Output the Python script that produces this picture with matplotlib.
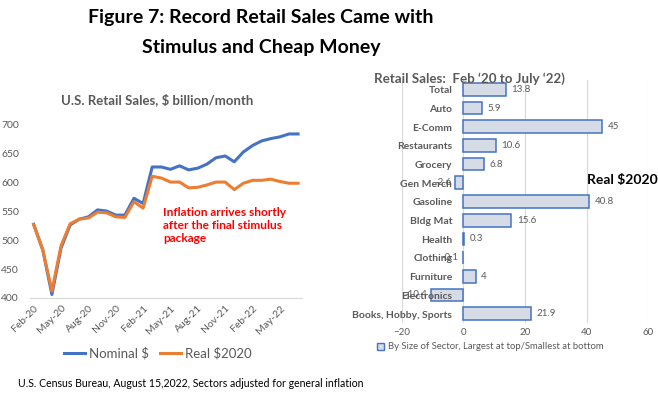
import matplotlib.pyplot as plt
import numpy as np
from matplotlib.patches import Patch
from matplotlib.lines import Line2D

plt.rcParams['font.family'] = ['Lato', 'DejaVu Sans']

# monthly retail sales, Feb-20 .. Jul-22, $ billion
months = ['Feb-20', 'Mar-20', 'Apr-20', 'May-20', 'Jun-20', 'Jul-20', 'Aug-20', 'Sep-20',
          'Oct-20', 'Nov-20', 'Dec-20', 'Jan-21', 'Feb-21', 'Mar-21', 'Apr-21', 'May-21',
          'Jun-21', 'Jul-21', 'Aug-21', 'Sep-21', 'Oct-21', 'Nov-21', 'Dec-21', 'Jan-22',
          'Feb-22', 'Mar-22', 'Apr-22', 'May-22', 'Jun-22', 'Jul-22']
nominal = [527, 483, 406, 486, 526, 536, 540, 552, 550, 543, 543, 572, 563, 626, 626, 622,
           628, 621, 624, 631, 642, 645, 635, 652, 663, 671, 675, 678, 683, 683]
real = [527, 483, 412, 490, 528, 536, 538, 548, 547, 540, 539, 566, 555, 610, 607, 600,
        600, 590, 591, 595, 600, 600, 587, 598, 603, 603, 605, 601, 598, 598]

# sector change (%), Feb '20 to July '22, real $2020
sectors = ['Total', 'Auto', 'E-Comm', 'Restaurants', 'Grocery', 'Gen Merch', 'Gasoline',
           'Bldg Mat', 'Health', 'Clothing', 'Furniture', 'Electronics', 'Books, Hobby, Sports']
changes = [13.8, 5.9, 45, 10.6, 6.8, -2.6, 40.8, 15.6, 0.3, -0.1, 4, -10.4, 21.9]

gray = '#595959'
blue = '#4472C4'
orange = '#ED7D31'

fig = plt.figure(figsize=(6.58, 3.97), dpi=100)

fig.text(0.397, 0.955, 'Figure 7: Record Retail Sales Came with', ha='center', va='center',
         fontsize=14, fontweight='bold')
fig.text(0.397, 0.88, 'Stimulus and Cheap Money', ha='center', va='center',
         fontsize=14, fontweight='bold')

# ---- left: line chart
ax1 = fig.add_axes([0.0456, 0.2494, 0.413, 0.438])
x = np.arange(len(months))
ax1.plot(x, nominal, color=blue, lw=2.2)
ax1.plot(x, real, color=orange, lw=2.2)
ax1.set_xlim(-0.4, len(months) - 0.6)
ax1.set_ylim(400, 700)
ax1.set_yticks(np.arange(400, 701, 50))
ax1.set_xticks(x[::3])
ax1.set_xticklabels(months[::3], rotation=45, ha='right', rotation_mode='anchor')
ax1.tick_params(length=0, colors=gray, labelsize=7.5, pad=4)
ax1.tick_params(axis='y', pad=8)
for s in ['top', 'right', 'left']:
    ax1.spines[s].set_visible(False)
ax1.spines['bottom'].set_color('#D9D9D9')
fig.text(0.239, 0.748, 'U.S. Retail Sales, $ billion/month', ha='center', va='center',
         color=gray, fontsize=9.5, fontweight='bold')
ax1.text(14.2, 557, 'Inflation arrives shortly\nafter the final stimulus\npackage',
         color='red', fontsize=8.6, fontweight='bold', va='top', linespacing=1.25)
handles = [Line2D([], [], color=blue, lw=2.2), Line2D([], [], color=orange, lw=2.2)]
fig.legend(handles, ['Nominal $', 'Real $2020'], loc='center', bbox_to_anchor=(0.24, 0.11),
           ncol=2, frameon=False, fontsize=9.5, labelcolor=gray, handlelength=1.6,
           handletextpad=0.3, columnspacing=0.8)

# ---- right: bar chart
ax2 = fig.add_axes([0.6105, 0.1864, 0.3748, 0.612])
y = np.arange(len(sectors))
ax2.barh(y, changes, height=0.68, color='#D6DCE5', edgecolor=blue, lw=1.1, zorder=3)
ax2.set_ylim(len(sectors) - 0.5, -0.5)
ax2.set_xlim(-20, 60)
ax2.set_xticks([-20, 0, 20, 40, 60])
ax2.set_yticks([])
ax2.grid(axis='x', color='#D9D9D9', lw=0.8, zorder=0)
ax2.tick_params(length=0, colors=gray, labelsize=7)
for s in ax2.spines.values():
    s.set_visible(False)
for yi, (name, v) in enumerate(zip(sectors, changes)):
    ax2.annotate(name, (0, yi), xytext=(-8, -1), textcoords='offset points', ha='right',
                 va='center', fontsize=7.5, fontweight='bold', color=gray, zorder=4)
    lab = f'{v:g}'
    if v >= 0:
        ax2.annotate(lab, (v, yi), xytext=(4, 0), textcoords='offset points', ha='left',
                     va='center', fontsize=7, color=gray, zorder=4)
    else:
        ax2.annotate(lab, (v, yi), xytext=(-3, 0), textcoords='offset points', ha='right',
                     va='center', fontsize=7, color=gray, zorder=4)
fig.text(0.713, 0.803, 'Retail Sales:  Feb \u201820 to July \u201822)', ha='center', va='center',
         color=gray, fontsize=9.6, fontweight='bold')
fig.text(0.892, 0.547, 'Real $2020', ha='left', va='center', fontsize=10, fontweight='bold')
fig.legend([Patch(facecolor='#D6DCE5', edgecolor=blue)],
           ['By Size of Sector, Largest at top/Smallest at bottom'], loc='center',
           bbox_to_anchor=(0.745, 0.126), frameon=False, fontsize=6.8, labelcolor=gray,
           handlelength=0.8, handleheight=0.8, handletextpad=0.4)

fig.text(0.027, 0.035, 'U.S. Census Bureau, August 15,2022, Sectors adjusted for general inflation',
         fontsize=7.6, va='center')

fig.savefig('out.png', dpi=100)
